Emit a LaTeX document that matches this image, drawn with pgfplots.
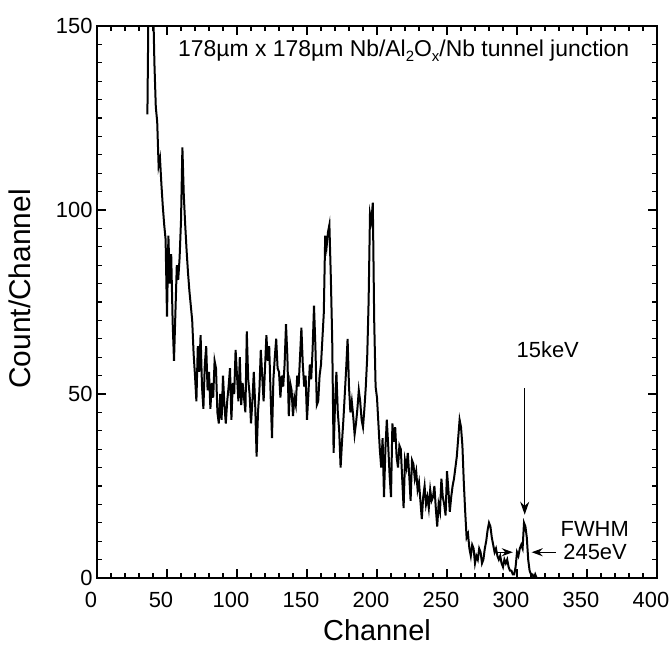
\documentclass[border=0pt]{standalone}
\usepackage{fontspec}
\setmainfont{Liberation Sans}
\usepackage{pgfplots}
\usepackage{pgfplotstable}
\pgfplotsset{compat=1.18}
\usetikzlibrary{arrows.meta}

% counts per channel
\pgfplotstableread{
ch cnt
36 126
37 165
38 150
39 162
40 158
41 140
42 128
43 124
44 112
45 114
46 107
47 101
48 96
49 92
50 71
51 93
52 80
53 88
54 70
55 59
56 72
57 85
58 81
59 87
60 97
61 117
62 104
63 96
64 89
65 83
66 78
67 74
68 70
69 61
70 55
71 48
72 63
73 56
74 66
75 52
76 46
77 58
78 63
79 51
80 56
81 46
82 53
83 49
84 59
85 57
86 45
87 42
88 50
89 43
90 55
91 47
92 42
93 48
94 52
95 57
96 43
97 53
98 50
99 62
100 55
101 48
102 60
103 47
104 53
105 49
106 45
107 67
108 54
109 50
110 42
111 48
112 56
113 47
114 33
115 45
116 51
117 62
118 55
119 48
120 57
121 66
122 59
123 63
124 50
125 38
126 54
127 60
128 65
129 57
130 56
131 49
132 55
133 52
134 58
135 69
136 60
137 44
138 53
139 51
140 44
141 49
142 47
143 55
144 52
145 60
146 68
147 58
148 52
149 55
150 43
151 50
152 58
153 54
154 62
155 74
156 63
157 47
158 48
159 55
160 58
161 65
162 72
163 93
164 90
165 94
166 96
167 82
168 65
169 34
170 47
171 56
172 45
173 40
174 30
175 37
176 43
177 50
178 57
179 65
180 52
181 45
182 48
183 44
184 39
185 42
186 46
187 51
188 48
189 43
190 41
191 46
192 52
193 60
194 75
195 99
196 97
197 102
198 70
199 52
200 49
201 42
202 35
203 30
204 38
205 22
206 35
207 43
208 36
209 28
210 22
211 42
212 37
213 41
214 33
215 30
216 36
217 35
218 27
219 19
220 32
221 30
222 34
223 28
224 21
225 32
226 31
227 27
228 29
229 24
230 26
231 21
232 16
233 22
234 25
235 20
236 22
237 19
238 24
239 21
240 22
241 25
242 19
243 14
244 20
245 18
246 27
247 22
248 20
249 17
250 29
251 24
252 18
253 22
254 25
255 27
256 30
257 33
258 38
259 43
260 41
261 36
262 26
263 18
264 11
265 12
266 8
267 6
268 9
269 8
270 4
271 6
272 5
273 8
274 7
275 4
276 5
277 8
278 10
279 13
280 15
281 14
282 11
283 9
284 7
285 8
286 6
287 5
288 6
289 4
290 3
291 5
292 4
293 5
294 3
295 2
296 2
297 1
298 1
299 3
300 7
301 6
302 8
303 9
304 8
305 15
306 14
307 11
308 5
309 2
310 1
311 1
312 0
313 1
314 0
315 0
316 0
317 0
318 0
319 0
320 0
321 0
322 0
323 0
324 0
325 0
}\spectrum

\begin{document}
\begin{tikzpicture}
\begin{axis}[
    scale only axis,
    width=560bp, height=552bp,
    xmin=0, xmax=400, ymin=0, ymax=150,
    xtick={0,50,...,400}, ytick={0,50,100,150},
    minor x tick num=4, minor y tick num=9,
    major tick length=9bp, minor tick length=5bp,
    every tick/.style={black, line width=1.2bp},
    axis line style={line width=2.4bp},
    /pgf/number format/assume math mode=true,
    ticklabel style={font=\fontsize{22}{22}\selectfont},
    xticklabel style={yshift=-11bp, xshift=-6bp},
    yticklabel style={xshift=-1bp},
    xlabel={Channel}, ylabel={Count/Channel},
    xlabel style={font=\fontsize{29}{29}\selectfont, yshift=-5bp},
    ylabel style={font=\fontsize{30}{30}\selectfont, yshift=18bp, xshift=13bp},
]
\addplot[black, line width=2bp, sharp plot] table[x=ch, y=cnt] {\spectrum};

\node[anchor=base west, font=\fontsize{23}{23}\selectfont] at (axis cs:55.5,141.8)
  {178µm x 178µm Nb/Al\raisebox{-0.4ex}{\fontsize{15}{15}\selectfont 2}O\raisebox{-0.4ex}{\fontsize{15}{15}\selectfont x}/Nb tunnel junction};
\node[font=\fontsize{22}{22}\selectfont] at (axis cs:322,62) {15keV};
\draw[line width=1.2bp, -{Stealth[length=13bp, width=9bp]}] (axis cs:305.5,51.6) -- (axis cs:305.5,17.2);
\node[font=\fontsize{22}{22}\selectfont] at (axis cs:355.5,13.4) {FWHM};
\node[font=\fontsize{22}{22}\selectfont] at (axis cs:355.8,7) {245eV};
\draw[line width=1.2bp, -{Stealth[length=11bp, width=8bp]}] (axis cs:327.5,7) -- (axis cs:310.5,7);
\draw[line width=1.2bp, -{Stealth[length=11bp, width=8bp]}] (axis cs:285,7) -- (axis cs:297,7);
\end{axis}
\pgfresetboundingbox
\path[use as bounding box] (-97bp,-71bp) rectangle (573bp,578bp);
\end{tikzpicture}
\end{document}
